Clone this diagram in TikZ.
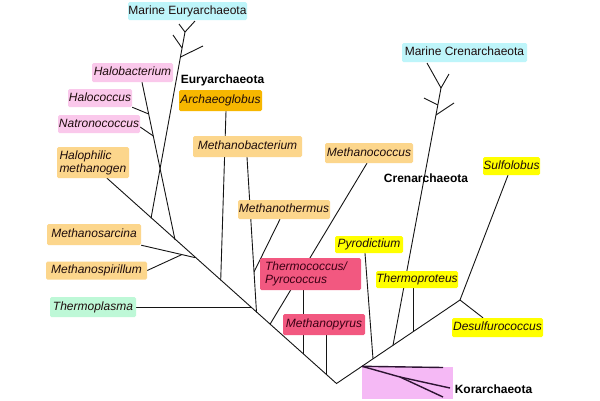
\documentclass[tikz,border=0pt]{standalone}
\usepackage{fontspec}
\setmainfont{Liberation Sans}
\pgfdeclarelayer{back}
\pgfdeclarelayer{lines}
\pgfsetlayers{back,lines,main}
\definecolor{cyanb}{RGB}{190,245,250}
\definecolor{pinkb}{RGB}{250,200,235}
\definecolor{orangeb}{RGB}{252,214,140}
\definecolor{amberb}{RGB}{247,183,0}
\definecolor{redb}{RGB}{242,88,128}
\definecolor{yellowb}{RGB}{255,255,0}
\definecolor{greenb}{RGB}{190,248,215}
\definecolor{violetb}{RGB}{245,185,245}
\definecolor{txt}{RGB}{30,12,12}
\definecolor{redtxt}{RGB}{60,0,20}
\definecolor{ln}{RGB}{20,20,20}
\definecolor{kln}{RGB}{45,20,50}
\begin{document}
\begin{tikzpicture}[x=1pt,y=-1pt,
  box/.style={fill=#1, rounded corners=1.5pt, inner xsep=0pt, inner ysep=0pt,
    font=\fontsize{12}{13}\selectfont\itshape, text=txt, text height=9pt, text depth=3pt},
  boxtwo/.style={fill=#1, rounded corners=1.5pt, inner ysep=0pt, align=left,
    font=\fontsize{12}{13}\selectfont\itshape, text=txt},
  tag/.style={font=\fontsize{12}{13}\selectfont\bfseries, anchor=base, inner sep=0pt, text=black},
  br/.style={line width=0.9pt, draw=ln},
  kr/.style={line width=1.4pt, draw=kln}]
\useasboundingbox (0,0) rectangle (600,400);
\begin{pgfonlayer}{back}
\fill[white] (0,0) rectangle (600,400);
\node[fill=violetb, minimum width=91pt, minimum height=32pt, inner sep=0pt] (kb) at (407.5,383) {};
\end{pgfonlayer}

% labels
\node[box=cyanb, minimum width=119pt, minimum height=18pt] (me) at (187.5,11) {\upshape Marine Euryarchaeota};
\node[box=pinkb, minimum width=81pt, minimum height=19pt] (hb) at (132.5,72.5) {Halobacterium};
\node[box=pinkb, minimum width=64pt, minimum height=18pt] (hc) at (100,98) {Halococcus};
\node[box=pinkb, minimum width=82pt, minimum height=18pt] (nc) at (99,124) {Natronococcus};
\node[boxtwo=orangeb, text width=67pt, inner xsep=2.5pt, minimum height=31pt] (hm) at (93,162.5) {Halophilic\\methanogen};
\node[box=amberb, minimum width=83pt, minimum height=21pt] (ag) at (220.5,100.5) {Archaeoglobus};
\node[box=orangeb, minimum width=109pt, minimum height=21pt] (mb) at (247.5,146.5) {Methanobacterium};
\node[box=orangeb, minimum width=92pt, minimum height=19pt] (mt) at (284,209.5) {Methanothermus};
\node[box=orangeb, minimum width=88pt, minimum height=20pt] (mc) at (369,153) {Methanococcus};
\node[box=orangeb, minimum width=94pt, minimum height=21pt] (ms) at (94,234.5) {Methanosarcina};
\node[box=orangeb, minimum width=101pt, minimum height=18pt] (msp) at (96.5,270.5) {Methanospirillum};
\node[box=greenb, minimum width=86pt, minimum height=20pt] (tp) at (93,307) {Thermoplasma};
\node[boxtwo=redb, text=redtxt, text width=91pt, inner xsep=5pt, minimum height=32pt] (tc) at (310.5,274) {Thermococcus/\\Pyrococcus};
\node[box=redb, text=redtxt, minimum width=82pt, minimum height=21pt] (mp) at (324,324.5) {Methanopyrus};
\node[box=cyanb, minimum width=125pt, minimum height=19pt] (mcr) at (464.5,52.5) {\upshape Marine Crenarchaeota};
\node[box=yellowb, minimum width=57pt, minimum height=18pt] (sf) at (511.5,166) {Sulfolobus};
\node[box=yellowb, minimum width=68pt, minimum height=17pt] (pd) at (369,244.5) {Pyrodictium};
\node[box=yellowb, minimum width=82pt, minimum height=17pt] (tpr) at (417,279.5) {Thermoproteus};
\node[box=yellowb, minimum width=91pt, minimum height=19pt] (ds) at (497.5,327.5) {Desulfurococcus};
\node[tag] (eu) at (222.5,83.5) {Euryarchaeota};
\node[tag] (cr) at (426,182) {Crenarchaeota};
\node[tag] (ko) at (493.5,393) {Korarchaeota};

\begin{pgfonlayer}{lines}
% junctions
\coordinate (R) at (336.5,383.5);
\coordinate (jMe) at (151,218.4);
\coordinate (jHb) at (175,239.8);
\coordinate (jMs) at (195,257.6);
\coordinate (jAg) at (220.7,280.4);
\coordinate (jTp) at (250.5,307);
\coordinate (jMb) at (256.5,312.3);
\coordinate (jMc) at (270,324.3);
\coordinate (jTc) at (303,353.7);
\coordinate (jMp) at (326,374.2);
\coordinate (jKo) at (362,366.3);
\coordinate (jPd) at (373,358.8);
\coordinate (jCr) at (393,345.3);
\coordinate (jTpr) at (413,331.8);
\coordinate (jSD) at (460,300);
% main tree
\draw[br] (hm.south -| 107,0) -- (R) -- (jSD);
% marine euryarchaeota
\coordinate (mef) at (185,32);
\coordinate (meA) at (179,24);
\coordinate (meB) at (195,21);
\coordinate (meL1) at (182,48);
\coordinate (meL2) at (173,35);
\coordinate (meR1) at (180.5,57);
\coordinate (meR2) at (203,46);
\draw[br] (jMe) -- (mef) -- (meA);
\draw[br] (mef) -- (meB);
\draw[br] (meL1) -- (meL2);
\draw[br] (meR1) -- (meR2);
% halobacteria
\coordinate (hcJ) at (148.7,114);
\coordinate (ncJ) at (153.3,136);
\draw[br] (hb.south -| 142,0) -- (jHb);
\draw[br] (hc.south east) -- (hcJ);
\draw[br] ([yshift=-3pt]nc.east) -- (ncJ);
% methanosarcina group
\coordinate (mspJ) at (182,254.5);
\draw[br] (ms.south east) -- (jMs);
\draw[br] (msp.east) -- (mspJ);
% others on left
\draw[br] (ag.south -| 226,0) -- (jAg);
\coordinate (mtJ) at (254,272);
\draw[br] (mb.south -| 247,0) -- (jMb);
\draw[br] (mt.south -| 280,0) -- (mtJ);
\draw[br] (tp.east) -- (jTp);
\draw[br] (mc.south -| 367,0) -- (jMc);
\draw[br] (tc.south -| 303,0) -- (jTc);
\draw[br] (mp.south -| 326,0) -- (jMp);
% crenarchaeota
\draw[br] (pd.south -| 365,0) -- (jPd);
\coordinate (crf) at (441,88);
\coordinate (crA) at (427,63);
\coordinate (crB) at (449,74);
\coordinate (crL1) at (437.8,105);
\coordinate (crL2) at (424,98);
\coordinate (crR1) at (436,115);
\coordinate (crR2) at (454,103);
\draw[br] (jCr) -- (crf) -- (crA);
\draw[br] (crf) -- (crB);
\draw[br] (crL1) -- (crL2);
\draw[br] (crR1) -- (crR2);
\draw[br] (tpr.south -| 413,0) -- (jTpr);
\draw[br] (sf.south -| 508,0) -- (jSD);
\draw[br] (ds.north -| 483,0) -- (jSD);
% korarchaeota
\coordinate (ko1) at (443,367.5);
\coordinate (koJ) at (400,377);
\coordinate (ko2) at (450,388);
\coordinate (ko3) at (443,397);
\draw[kr] (jKo) -- (ko1);
\draw[kr] (jKo) -- (koJ) -- (ko2);
\draw[kr] (koJ) -- (ko3);
\end{pgfonlayer}
\end{tikzpicture}
\end{document}
